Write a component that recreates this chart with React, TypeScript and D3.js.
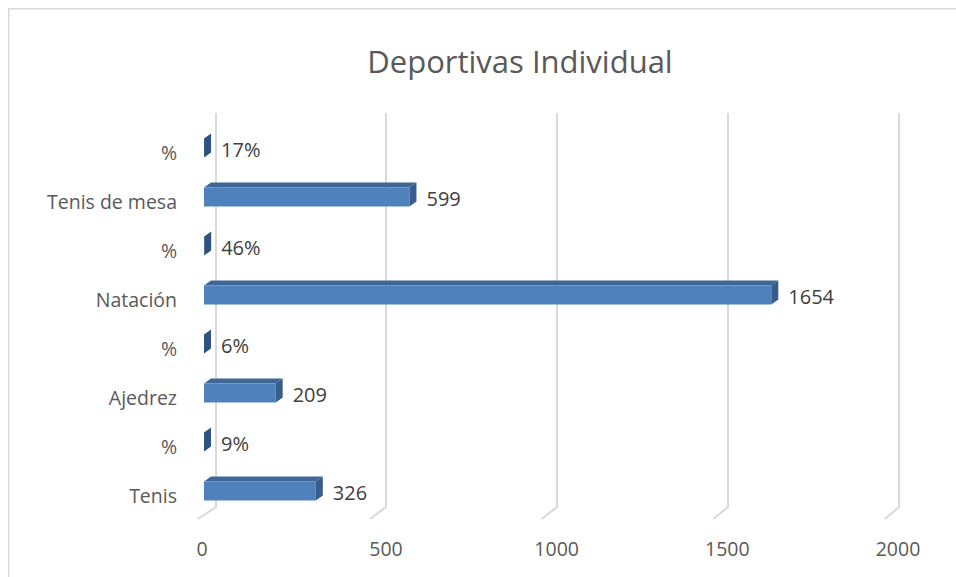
import React from "react";
import * as d3 from "d3";

const categories = ["%", "Tenis de mesa", "%", "Natación", "%", "Ajedrez", "%", "Tenis"];
const values = [0.17, 599, 0.46, 1654, 0.06, 209, 0.09, 326];
const valueLabels = ["17%", "599", "46%", "1654", "6%", "209", "9%", "326"];
const axisTicks = [0, 500, 1000, 1500, 2000];
const title = "Deportivas Individual";

const W = 956;
const H = 577;
const FONT = "'Open Sans', 'Noto Sans', sans-serif";

export default function App() {
  const xFront = d3.scaleLinear().domain([0, 2000]).range([204, 890]);
  const xBack = d3.scaleLinear().domain([0, 500, 2000]).range([216, 386, 899]);
  const xFloor = d3.scaleLinear().domain([0, 500, 2000]).range([198, 370, 885]);
  const xLabel = d3.scaleLinear().domain([0, 500, 2000]).range([202, 386, 898]);
  const y = d3.scalePoint<number>().domain(d3.range(categories.length)).range([148, 491]);

  const barH = 19;
  const dx = 7;
  const dy = -5;
  const wallTop = 113;
  const wallBottom = 507;
  const floorDy = 12;

  const front = "#4f81bd";
  const topC = "#3e6696";
  const sideC = "#385d8a";

  return (
    <svg
      width={W}
      height={H}
      style={{ position: "absolute", left: 0, top: 0, display: "block", background: "#fff" }}
      fontFamily={FONT}
    >
      <rect x={0} y={0} width={W} height={H} fill="#fff" />
      <rect x={8.75} y={8.75} width={1200} height={1200} fill="none" stroke="#d9d9d9" strokeWidth={1.5} />
      <text x={520} y={73} textAnchor="middle" fontSize={31} fill="#595959">
        {title}
      </text>
      {axisTicks.map((t) => (
        <path
          key={"g" + t}
          d={`M${xBack(t)},${wallTop}L${xBack(t)},${wallBottom}L${xFloor(t)},${wallBottom + floorDy}`}
          fill="none"
          stroke="#d9d9d9"
          strokeWidth={2}
        />
      ))}
      {axisTicks.map((t) => (
        <text key={"t" + t} x={xLabel(t)} y={548} textAnchor="middle" dominantBaseline="central" fontSize={19.5} fill="#595959">
          {t}
        </text>
      ))}
      {categories.map((c, i) => {
        const cy = y(i)!;
        const x0 = xFront(0);
        const x1 = xFront(values[i]);
        const t = cy - barH / 2;
        const b = cy + barH / 2;
        const w = x1 - x0;
        return (
          <g key={"b" + i}>
            {w > 1 && (
              <>
                <path d={`M${x0},${t}L${x0 + dx},${t + dy}L${x1 + dx},${t + dy}L${x1},${t}Z`} fill={topC} />
                <rect x={x0} y={t} width={w} height={barH} fill={front} />
              </>
            )}
            <path
              d={`M${x1},${t}L${x1 + dx},${t + dy}L${x1 + dx},${b + dy}L${x1},${b}Z`}
              fill={w > 1 ? sideC : "#2e5281"}
            />
            <text x={x1 + dx + 10} y={cy + 1} dominantBaseline="central" fontSize={20} fill="#404040">
              {valueLabels[i]}
            </text>
            <text x={177} y={cy + 4} textAnchor="end" dominantBaseline="central" fontSize={19.5} fill="#595959">
              {c}
            </text>
          </g>
        );
      })}
    </svg>
  );
}
